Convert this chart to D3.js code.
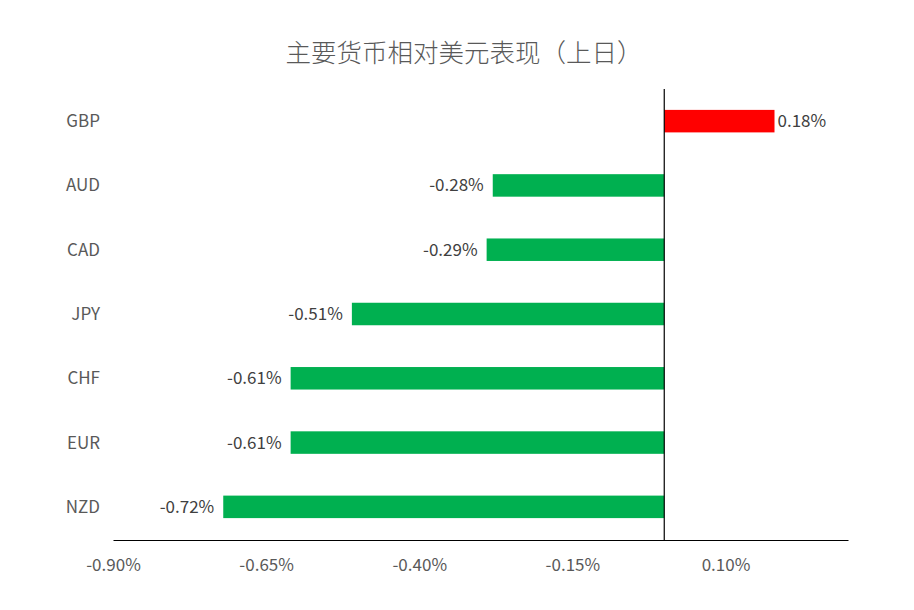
<!DOCTYPE html>
<html><head><meta charset="utf-8">
<script src="https://cdn.jsdelivr.net/npm/d3@7"></script>
<style>body{margin:0;background:#fff;}svg{display:block;}</style>
</head><body>
<svg id="c" width="914" height="610"></svg>
<script>
const title = "主要货币相对美元表现（上日）";
const categories = ["GBP","AUD","CAD","JPY","CHF","EUR","NZD"];
const values = [0.18,-0.28,-0.29,-0.51,-0.61,-0.61,-0.72];
const tickValues = [-0.90,-0.65,-0.40,-0.15,0.10];
const posColor = "#FF0000", negColor = "#00B050";

const svg = d3.select("#c");
const font = "'Noto Sans CJK SC','Noto Sans',sans-serif";
const pct = d => (d<0?"-":"") + Math.abs(d).toFixed(2) + "%";
const x = d3.scaleLinear().domain([-0.90,0.30]).range([113,848]);
const y = d3.scaleBand().domain(categories).range([89,539]).paddingInner(0.65).paddingOuter(0.325);

svg.append("text").attr("x",464).attr("y",62).attr("text-anchor","middle")
  .attr("font-family",font).attr("font-size",25.5).attr("font-weight",300).attr("fill","#595959").text(title);

svg.selectAll("rect.bar").data(values).join("rect")
  .attr("x",d=>x(Math.min(0,d))).attr("width",d=>Math.abs(x(d)-x(0)))
  .attr("y",(d,i)=>y(categories[i])).attr("height",y.bandwidth())
  .attr("fill",d=>d>=0?posColor:negColor);

// zero line
svg.append("line").attr("x1",x(0)).attr("x2",x(0)).attr("y1",89).attr("y2",540)
  .attr("stroke","#000").attr("stroke-width",1.2);

// bottom axis
const ax = svg.append("g").attr("transform","translate(0,540)")
  .call(d3.axisBottom(x).tickValues(tickValues).tickSize(0).tickFormat(pct));
ax.select(".domain").attr("stroke","#000").attr("stroke-width",1.2);
ax.selectAll("text").attr("font-family",font).attr("font-size",17).attr("fill","#595959").attr("dy","1.1em").attr("y",12);

// category labels
svg.selectAll("text.cat").data(categories).join("text").attr("class","cat")
  .attr("x",100).attr("y",d=>y(d)+y.bandwidth()/2).attr("dy","0.35em").attr("text-anchor","end")
  .attr("font-family",font).attr("font-size",17).attr("fill","#595959").text(d=>d);

// value labels
svg.selectAll("text.val").data(values).join("text").attr("class","val")
  .attr("x",d=>d>=0?x(d)+3:x(d)-9).attr("y",(d,i)=>y(categories[i])+y.bandwidth()/2).attr("dy","0.35em")
  .attr("text-anchor",d=>d>=0?"start":"end")
  .attr("font-family",font).attr("font-size",17).attr("fill","#404040").text(pct);
</script>
</body></html>
